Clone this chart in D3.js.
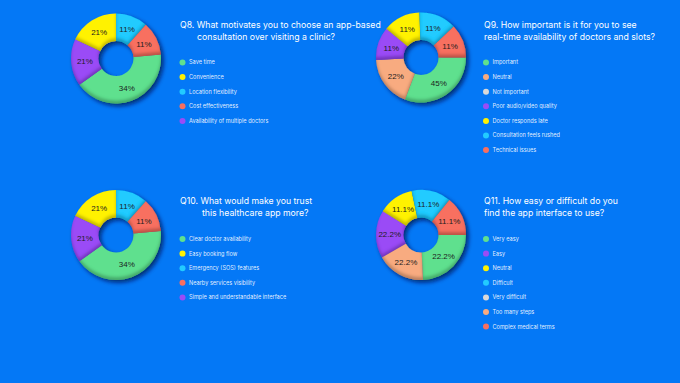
<!DOCTYPE html>
<html>
<head>
<meta charset="utf-8">
<script src="https://cdn.jsdelivr.net/npm/d3@7"></script>
<style>
  html, body { margin: 0; padding: 0; background: #0478F6; }
  svg { display: block; }
  .title { white-space: pre; }
</style>
</head>
<body>
<svg id="chart" width="680" height="383"></svg>
<script>
// ---------- DATA ----------
// Q8
const q8Title = ["Q8. What motivates you to choose an app-based", "       consultation over visiting a clinic?"];
const q8Categories = ["Save time", "Convenience", "Location flexibility", "Cost effectiveness", "Availability of multiple doctors"];
const q8Colors = ["green", "yellow", "cyan", "red", "purple"];
const q8Shares = [41.5, 18.1, 11.5, 12.1, 16.8];        // slice extents as drawn
const q8Labels = ["34%", "21%", "11%", "11%", "21%"];     // printed percentages

// Q9
const q9Title = ["Q9. How important is it for you to see", "real-time availability of doctors and slots?"];
const q9Categories = ["Important", "Neutral", "Not important", "Poor audio/video quality", "Doctor responds late", "Consultation feels rushed", "Technical issues"];
const q9Colors = ["green", "peach", "grey", "purple", "yellow", "cyan", "red"];
const q9Shares = [30.8, 18.3, 0, 11.9, 13.4, 13.5, 12.0];
const q9Labels = ["45%", "22%", "", "11%", "11%", "11%", "11%"];

// Q10
const q10Title = ["Q10. What would make you trust", "         this healthcare app more?"];
const q10Categories = ["Clear doctor availability", "Easy booking flow", "Emergency (SOS) features", "Nearby services visibility", "Simple and understandable interface"];
const q10Colors = ["green", "yellow", "cyan", "red", "purple"];
const q10Shares = [41.5, 18.1, 11.5, 12.1, 16.8];
const q10Labels = ["34%", "21%", "11%", "11%", "21%"];

// Q11
const q11Title = ["Q11. How easy or difficult do you", "find the app interface to use?"];
const q11Categories = ["Very easy", "Easy", "Neutral", "Difficult", "Very difficult", "Too many steps", "Complex medical terms"];
const q11Colors = ["green", "purple", "yellow", "cyan", "grey", "peach", "red"];
const q11Shares = [24.3, 17.2, 12.8, 14.2, 0, 17.4, 14.2];
const q11Labels = ["22.2%", "22.2%", "11.1%", "11.1%", "", "22.2%", "11.1%"];

// clockwise slice order (by colour) used by all four donuts
const sliceOrder = ["cyan", "red", "green", "peach", "purple", "yellow", "grey"];

const palette = {
  green: "#5fe08e", yellow: "#fff200", cyan: "#22cbff", red: "#f86f60",
  purple: "#9a4cf6", peach: "#f8ab80", grey: "#d9d9d9"
};

// ---------- DRAWING ----------
const svg = d3.select("#chart");
const defs = svg.append("defs");

// outer drop shadow (also darkens hole's upper-left)
const ds = defs.append("filter").attr("id", "drop").attr("x", "-30%").attr("y", "-30%").attr("width", "160%").attr("height", "160%");
ds.append("feDropShadow").attr("dx", 2.5).attr("dy", 2.5).attr("stdDeviation", 2.2)
  .attr("flood-color", "#00154a").attr("flood-opacity", 0.75);

// inner shading on lower edges of each slice
const inner = defs.append("filter").attr("id", "inner").attr("x", "-10%").attr("y", "-10%").attr("width", "120%").attr("height", "120%");
inner.append("feOffset").attr("in", "SourceAlpha").attr("dx", -0.5).attr("dy", -3).attr("result", "off");
inner.append("feGaussianBlur").attr("in", "off").attr("stdDeviation", 1.6).attr("result", "blur");
inner.append("feComposite").attr("in", "SourceAlpha").attr("in2", "blur").attr("operator", "out").attr("result", "edge");
inner.append("feFlood").attr("flood-color", "#000").attr("flood-opacity", 0.45).attr("result", "flood");
inner.append("feComposite").attr("in", "flood").attr("in2", "edge").attr("operator", "in").attr("result", "shadow");
const merge = inner.append("feMerge");
merge.append("feMergeNode").attr("in", "SourceGraphic");
merge.append("feMergeNode").attr("in", "shadow");

const charts = [
  { title: q8Title, cats: q8Categories, colors: q8Colors, shares: q8Shares, labels: q8Labels,
    cx: 116, cy: 58.5, start: 0, tx: 180, ty: 28, lx: 182.5, ly: 62.5 },
  { title: q9Title, cats: q9Categories, colors: q9Colors, shares: q9Shares, labels: q9Labels,
    cx: 421, cy: 57.5, start: -2, tx: 484, ty: 28, lx: 486, ly: 62.5 },
  { title: q10Title, cats: q10Categories, colors: q10Colors, shares: q10Shares, labels: q10Labels,
    cx: 116, cy: 235, start: 0, tx: 180, ty: 204, lx: 182.5, ly: 239 },
  { title: q11Title, cats: q11Categories, colors: q11Colors, shares: q11Shares, labels: q11Labels,
    cx: 421, cy: 235, start: -12, tx: 484, ty: 204, lx: 486, ly: 239 }
];

const rOuter = 45, rInner = 17.5;
const arc = d3.arc().innerRadius(rInner).outerRadius(rOuter);
const labelArc = d3.arc().innerRadius(rInner).outerRadius(rOuter);

charts.forEach(c => {
  const rows = c.cats.map((name, i) => ({ name, color: c.colors[i], value: c.shares[i], label: c.labels[i] }));
  const a0 = c.start * Math.PI / 180;
  const pie = d3.pie().value(d => d.value)
    .sort((a, b) => sliceOrder.indexOf(a.color) - sliceOrder.indexOf(b.color))
    .startAngle(a0).endAngle(a0 + 2 * Math.PI);
  const arcs = pie(rows).filter(d => d.data.value > 0);

  const g = svg.append("g").attr("transform", `translate(${c.cx},${c.cy})`);
  const donut = g.append("g").attr("filter", "url(#drop)");
  donut.selectAll("path").data(arcs).join("path")
    .attr("d", arc)
    .attr("fill", d => palette[d.data.color])
    .attr("filter", "url(#inner)");

  g.selectAll("text").data(arcs).join("text")
    .attr("transform", d => `translate(${labelArc.centroid(d)})`)
    .attr("text-anchor", "middle")
    .attr("dy", "0.35em")
    .attr("font-family", "Liberation Sans, Arial, sans-serif")
    .attr("font-size", 8)
    .attr("fill", "#1d1d1d")
    .text(d => d.data.label);

  // title
  svg.append("text").attr("class", "title")
    .attr("x", c.tx).attr("y", c.ty)
    .attr("font-family", "Inter, sans-serif").attr("font-size", 8.7)
    .attr("fill", "#ffffff")
    .selectAll("tspan").data(c.title).join("tspan")
    .attr("x", c.tx).attr("dy", (d, i) => i === 0 ? 0 : 11.5)
    .text(d => d);

  // legend
  const step = 14.6;
  const leg = svg.append("g");
  rows.forEach((d, i) => {
    leg.append("circle").attr("cx", c.lx).attr("cy", c.ly + i * step).attr("r", 3)
      .attr("fill", palette[d.color]);
    leg.append("text").attr("x", c.lx + 6.5).attr("y", c.ly + i * step).attr("dy", "0.35em")
      .attr("font-family", "Inter, sans-serif").attr("font-size", 5.6)
      .attr("fill", "rgba(255,255,255,0.9)")
      .text(d.name);
  });
});
</script>
</body>
</html>
